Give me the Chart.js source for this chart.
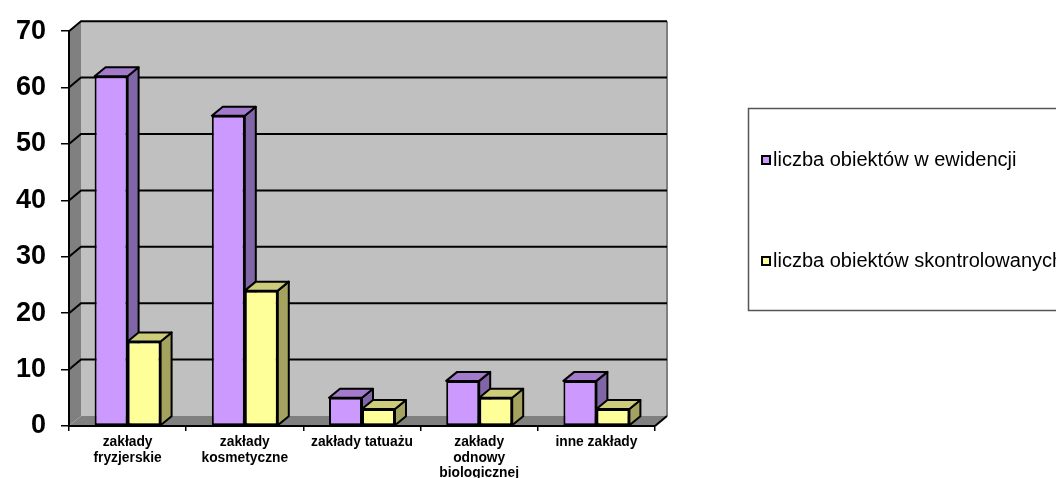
<!DOCTYPE html>
<html>
<head>
<meta charset="utf-8">
<script src="https://cdn.jsdelivr.net/npm/chart.js@4"></script>
<style>
  html, body { margin: 0; padding: 0; background: #fff; }
  canvas { display: block; }
</style>
</head>
<body>
<canvas id="myChart" width="1056" height="478"></canvas>
<script>
// Chart data
const categories = [["zakłady", "fryzjerskie"], ["zakłady", "kosmetyczne"], "zakłady tatuażu", ["zakłady", "odnowy", "biologicznej"], "inne zakłady"];
const seriesNames = ["liczba obiektów w ewidencji", "liczba obiektów skontrolowanych"];
const inRegister = [62, 55, 5, 8, 8];
const inspected = [15, 24, 3, 5, 3];
const yTicks = [0, 10, 20, 30, 40, 50, 60, 70];

// front / side / top shades for each series
const shades = [
    ["#CC99FF", "#8066A6", "#A37ACC"],
    ["#FFFF99", "#A3A35F", "#CCCC7A"]
];

const FONT = "'Liberation Sans', Arial, sans-serif";
const WALL_DX = 12, WALL_DY = -10;   // depth of the walls
const BAR_DX = 11, BAR_DY = -9;      // depth of the bars

function poly(ctx, pts, fill, stroke) {
    ctx.beginPath();
    ctx.moveTo(pts[0][0], pts[0][1]);
    for (let i = 1; i < pts.length; i++) ctx.lineTo(pts[i][0], pts[i][1]);
    ctx.closePath();
    if (fill) { ctx.fillStyle = fill; ctx.fill(); }
    if (stroke) { ctx.strokeStyle = stroke; ctx.stroke(); }
}

// grey back wall, left wall and floor with the grid drawn on them
const walls = {
    id: "walls",
    beforeDraw(chart) {
        const ctx = chart.ctx, xs = chart.scales.x, ys = chart.scales.y;
        const l = xs.left, r = xs.right;
        const top = ys.getPixelForValue(yTicks[yTicks.length - 1]);
        const bot = ys.getPixelForValue(0);
        ctx.save();
        ctx.fillStyle = "#C0C0C0";
        ctx.fillRect(l + WALL_DX, top + WALL_DY, r - l, bot - top);
        poly(ctx, [[l, top], [l + WALL_DX, top + WALL_DY], [l + WALL_DX, bot + WALL_DY], [l, bot]], "#808080");
        poly(ctx, [[l, bot], [l + WALL_DX, bot + WALL_DY], [r + WALL_DX, bot + WALL_DY], [r, bot]], "#808080");
        // right edge of back wall
        ctx.strokeStyle = "#808080";
        ctx.lineWidth = 2;
        ctx.beginPath();
        ctx.moveTo(r + WALL_DX, top + WALL_DY);
        ctx.lineTo(r + WALL_DX, bot + WALL_DY);
        ctx.stroke();
        // gridlines
        ctx.strokeStyle = "#000";
        ctx.lineWidth = 2;
        yTicks.forEach(v => {
            if (v === 0) return;
            const py = ys.getPixelForValue(v);
            ctx.beginPath();
            ctx.moveTo(l, py);
            ctx.lineTo(l + WALL_DX, py + WALL_DY);
            ctx.lineTo(r + WALL_DX, py + WALL_DY);
            ctx.stroke();
        });
        ctx.beginPath();
        ctx.moveTo(r, bot);
        ctx.lineTo(r + WALL_DX, bot + WALL_DY);
        ctx.stroke();
        ctx.restore();
    }
};

// side and top faces of each bar (the front is drawn by Chart.js)
const bars3d = {
    id: "bars3d",
    beforeDatasetsDraw(chart) {
        const ctx = chart.ctx;
        ctx.save();
        ctx.lineWidth = 2;
        ctx.lineJoin = "round";
        chart.data.datasets.forEach((ds, d) => {
            chart.getDatasetMeta(d).data.forEach(bar => {
                const p = bar.getProps(["x", "y", "base", "width"], true);
                const xl = p.x - p.width / 2, xr = p.x + p.width / 2;
                poly(ctx, [[xr, p.y], [xr + BAR_DX, p.y + BAR_DY], [xr + BAR_DX, p.base + BAR_DY], [xr, p.base]], shades[d][1], "#000");
                poly(ctx, [[xl, p.y], [xl + BAR_DX, p.y + BAR_DY], [xr + BAR_DX, p.y + BAR_DY], [xr, p.y]], shades[d][2], "#000");
            });
        });
        ctx.restore();
    }
};

// boxed legend on the right
const boxLegend = {
    id: "boxLegend",
    afterDraw(chart) {
        const ctx = chart.ctx;
        ctx.save();
        ctx.strokeStyle = "#555";
        ctx.lineWidth = 1.5;
        ctx.strokeRect(748.5, 108.5, 330, 202);
        ctx.font = "20px " + FONT;
        ctx.textBaseline = "middle";
        const rows = [160, 261];
        chart.data.datasets.forEach((ds, d) => {
            const cy = rows[d];
            ctx.fillStyle = shades[d][0];
            ctx.fillRect(762, cy - 4, 8, 8);
            ctx.strokeStyle = "#000";
            ctx.lineWidth = 2;
            ctx.strokeRect(762, cy - 4, 8, 8);
            ctx.fillStyle = "#000";
            ctx.fillText(ds.label, 773, cy);
        });
        ctx.restore();
    }
};

const ctx = document.getElementById("myChart").getContext("2d");

const myChart = new Chart(ctx, {
    type: "bar",
    data: {
        labels: categories,
        datasets: [
            {
                label: seriesNames[0],
                data: inRegister,
                backgroundColor: shades[0][0],
                borderColor: "#000",
                borderWidth: 2,
                borderSkipped: false
            },
            {
                label: seriesNames[1],
                data: inspected,
                backgroundColor: shades[1][0],
                borderColor: "#000",
                borderWidth: 2,
                borderSkipped: false
            }
        ]
    },
    options: {
        responsive: false,
        animation: false,
        categoryPercentage: 0.563,
        barPercentage: 1,
        layout: { padding: { left: 0, right: 401, top: 26, bottom: 0 } },
        scales: {
            x: {
                afterFit: s => { s.height = 52; },
                grid: { drawOnChartArea: false, drawTicks: true, tickLength: 5, color: "#000", lineWidth: 1.5 },
                border: { display: true, color: "#000", width: 2 },
                ticks: {
                    color: "#000",
                    maxRotation: 0,
                    autoSkip: false,
                    padding: 4,
                    font: { family: FONT, size: 13.8, weight: "bold", lineHeight: 1.1 }
                }
            },
            y: {
                min: 0,
                max: 70,
                afterFit: s => { s.width = 69; },
                afterBuildTicks: s => { s.ticks = yTicks.map(v => ({ value: v })); },
                grid: { drawOnChartArea: false, drawTicks: true, tickLength: 8, color: "#000", lineWidth: 1.5 },
                border: { display: true, color: "#000", width: 2 },
                ticks: {
                    color: "#000",
                    padding: 15,
                    font: { family: FONT, size: 27, weight: "bold" }
                }
            }
        },
        plugins: {
            legend: { display: false },
            tooltip: { enabled: false }
        }
    },
    plugins: [walls, bars3d, boxLegend]
});
</script>
</body>
</html>
